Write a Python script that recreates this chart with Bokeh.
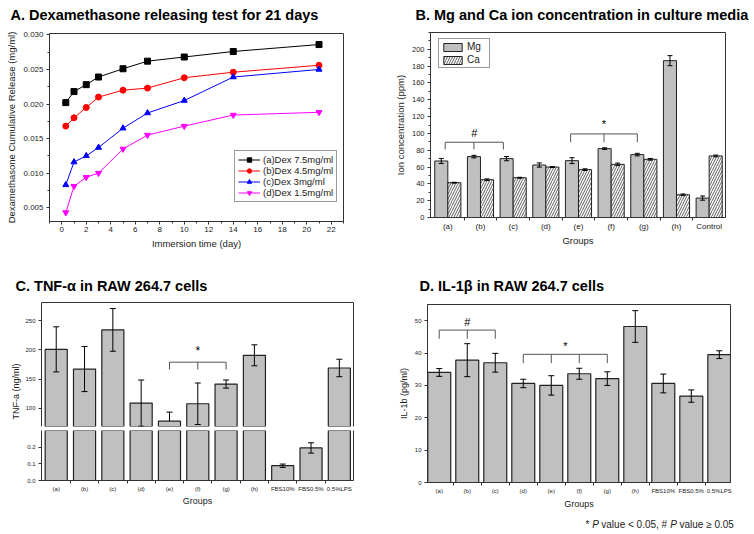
import numpy as np
from bokeh.plotting import figure
from bokeh.layouts import row, column
from bokeh.models import (Range1d, FixedTicker, NumeralTickFormatter, Legend, LegendItem,
                          LinearAxis)
from bokeh.core.properties import value
from bokeh.embed import file_html
from bokeh.resources import INLINE

FONT = "Liberation Sans"
INK = "#222222"
AXIS = "#333333"
BAR_GRAY = "#c0c0c0"

# ---------------- A. Dexamethasone release ----------------
release_days = [0.33, 1, 2, 3, 5, 7, 10, 14, 21]
release_a = [0.0202, 0.0218, 0.0228, 0.0239, 0.0251, 0.0262, 0.0268, 0.0276, 0.0286]
release_b = [0.0168, 0.0180, 0.0195, 0.0210, 0.0220, 0.0223, 0.0238, 0.0246, 0.0256]
release_c = [0.0083, 0.0116, 0.0125, 0.0137, 0.0165, 0.0187, 0.0205, 0.0239, 0.0250]
release_d = [0.0043, 0.0081, 0.0094, 0.0100, 0.0135, 0.0155, 0.0168, 0.0184, 0.0188]
release_names = ["(a)Dex 7.5mg/ml", "(b)Dex 4.5mg/ml", "(c)Dex 3mg/ml", "(d)Dex 1.5mg/ml"]
release_colors = ["#000000", "#ff0000", "#0000ff", "#ff00ff"]
release_markers = ["square", "circle", "triangle", "inverted_triangle"]

# ---------------- B. Mg / Ca ions ----------------
ion_groups = ["(a)", "(b)", "(c)", "(d)", "(e)", "(f)", "(g)", "(h)", "Control"]
mg_ppm = [67.2, 72.4, 70.0, 62.4, 67.6, 81.9, 74.8, 186.5, 23.1]
mg_err = [3.0, 1.5, 2.5, 2.5, 3.5, 1.0, 1.5, 6.0, 2.5]
ca_ppm = [41.4, 44.9, 47.3, 60.0, 56.9, 63.2, 69.2, 27.0, 73.2]
ca_err = [0.5, 1.0, 0.5, 0.5, 1.0, 1.5, 1.0, 1.0, 1.0]
# significance brackets: x of legs/ticks, bracket height, leg bottom, symbol, symbol height
ion_brackets = [([0.92, 1.8, 2.7], 89.5, 80.8, "#", 100.6),
                ([4.76, 5.78, 6.8], 99.4, 89.5, "*", 111.0)]

# ---------------- C / D. cytokines ----------------
cell_groups = ["(a)", "(b)", "(c)", "(d)", "(e)", "(f)", "(g)", "(h)",
               "FBS10%", "FBS0.5%", "0.5%LPS"]
tnf = [201.0, 167.2, 234.5, 108.6, 77.6, 107.5, 141.4, 190.8, 0.089, 0.196, 169.0]
tnf_err = [38.8, 38.8, 36.7, 39.7, 15.5, 35.7, 7.0, 18.0, 0.01, 0.031, 15.0]
tnf_brackets = [([5, 6, 7], 179.0, 166.4, "*", 199.0)]

il1b = [34.0, 37.8, 37.0, 30.6, 30.0, 33.6, 32.1, 48.2, 30.6, 26.7, 39.5]
il1b_err = [1.2, 5.1, 2.9, 1.3, 3.0, 1.7, 2.1, 4.9, 2.9, 1.9, 1.2]
il1b_brackets = [([1, 2, 3], 47.1, 44.4, "#", 49.6),
                 ([4, 5, 6, 7], 39.6, 36.9, "*", 42.3)]

titles = ["A. Dexamethasone releasing test for 21 days",
          "B. Mg and Ca ion concentration in culture media",
          "C. TNF-\u03b1 in RAW 264.7 cells",
          "D. IL-1\u03b2 in RAW 264.7 cells"]


def make_fig(w, h, xr, yr, borders, **kw):
    left, right, top, bottom = borders
    p = figure(width=w, height=h, x_range=xr, y_range=yr, output_backend="svg",
               toolbar_location=None, title=None, min_border_left=left,
               min_border_right=right, min_border_top=top, min_border_bottom=bottom, **kw)
    p.xgrid.visible = False
    p.ygrid.visible = False
    p.outline_line_color = AXIS
    p.outline_line_width = 1
    p.background_fill_color = "white"
    p.border_fill_color = "white"
    return p


def text_canvas(w, h):
    """Axis-free strip used to place free text with glyphs in pixel coordinates."""
    p = figure(width=w, height=h, x_range=Range1d(0, w), y_range=Range1d(0, h),
               output_backend="svg", toolbar_location=None, title=None,
               x_axis_location=None, y_axis_location=None, min_border=0)
    p.xgrid.visible = False
    p.ygrid.visible = False
    p.outline_line_color = None
    p.background_fill_color = "white"
    p.border_fill_color = "white"
    return p


def title_strip(text, h, x, y_from_top):
    p = text_canvas(377, h)
    p.text(x=[x], y=[h - y_from_top], text=[text], text_font=value(FONT),
           text_font_size="14.5px", text_font_style="bold", text_color="black",
           text_align="left", text_baseline="middle")
    # wrapped in its own row so its frame is not aligned with the chart below
    return row(p)


def style_axis(ax, tick_size, label_size="9.5px", tick_out=3, minor_out=2,
               standoff=3, label_standoff=3):
    ax.axis_line_color = AXIS
    ax.major_tick_line_color = AXIS
    ax.minor_tick_line_color = AXIS
    ax.major_tick_out = tick_out
    ax.major_tick_in = 0
    ax.minor_tick_out = minor_out
    ax.minor_tick_in = 0
    ax.major_label_text_font = FONT
    ax.major_label_text_font_size = tick_size
    ax.major_label_text_color = INK
    ax.major_label_standoff = standoff
    ax.axis_label_text_font = FONT
    ax.axis_label_text_font_size = label_size
    ax.axis_label_text_font_style = "normal"
    ax.axis_label_text_color = INK
    ax.axis_label_standoff = label_standoff


def frame_only_axis(p, side):
    ax = LinearAxis(ticker=FixedTicker(ticks=[], minor_ticks=[]))
    ax.axis_line_color = AXIS
    ax.major_tick_line_color = None
    ax.minor_tick_line_color = None
    p.add_layout(ax, side)
    return ax


def error_bars(p, xs, vals, errs, cap, lower=None):
    xs = np.asarray(xs, dtype=float)
    v = np.asarray(vals, dtype=float)
    e = np.asarray(errs, dtype=float)
    lower = np.ones(len(v), dtype=bool) if lower is None else np.asarray(lower, dtype=bool)
    p.segment(x0=xs, y0=v, x1=xs, y1=v + e, line_color="black", line_width=1)
    p.scatter(xs, v + e, marker="dash", size=cap, line_color="black", line_width=1)
    p.segment(x0=xs[lower], y0=v[lower], x1=xs[lower], y1=(v - e)[lower],
              line_color="black", line_width=1)
    p.scatter(xs[lower], (v - e)[lower], marker="dash", size=cap,
              line_color="black", line_width=1)


def brackets(p, spec, mark_size="11px"):
    for xs, top, leg, mark, mark_y in spec:
        p.multi_line(xs=[[xs[0], xs[0], xs[-1], xs[-1]]] + [[x, x] for x in xs[1:-1]],
                     ys=[[leg, top, top, leg]] + [[top, leg] for _ in xs[1:-1]],
                     line_color="#555555", line_width=1)
        p.text(x=[(xs[0] + xs[-1]) / 2], y=[mark_y], text=[mark],
               text_font=value(FONT), text_font_size=mark_size,
               text_align="center", text_baseline="middle", text_color="black")


def category_ticks(ax, names):
    n = len(names)
    ax.ticker = FixedTicker(ticks=list(range(1, n + 1)),
                            minor_ticks=[i + 0.5 for i in range(1, n)])
    ax.major_label_overrides = {i + 1: s for i, s in enumerate(names)}


# ======================= Panel A =======================
pa = make_fig(377, 241, Range1d(-1, 23), Range1d(0.003, 0.0302), (49, 34, 7, 46))
items = []
for ys, name, col, mk in zip([release_a, release_b, release_c, release_d],
                             release_names, release_colors, release_markers):
    ln = pa.line(release_days, ys, line_color=col, line_width=1)
    sc = pa.scatter(release_days, ys, marker=mk, size=6, fill_color=col, line_color=col)
    items.append(LegendItem(label=name, renderers=[ln, sc]))
style_axis(pa.xaxis[0], "8px", standoff=2)
style_axis(pa.yaxis[0], "8px")
pa.xaxis[0].ticker = FixedTicker(ticks=list(range(0, 23, 2)), minor_ticks=list(range(-1, 24)))
pa.yaxis[0].ticker = FixedTicker(ticks=[0.005, 0.010, 0.015, 0.020, 0.025, 0.030],
                                 minor_ticks=[0.0025 * i for i in range(1, 13)])
pa.yaxis[0].formatter = NumeralTickFormatter(format="0.000")
pa.xaxis[0].axis_label = "Immersion time (day)"
pa.yaxis[0].axis_label = "Dexamethasone Cumulative Release (mg/ml)"
leg_a = Legend(items=items, location=(185, 19), border_line_color=AXIS, border_line_width=1,
               padding=3, spacing=0, margin=0, label_standoff=3, glyph_width=22,
               glyph_height=11, label_height=11, label_text_font=FONT,
               label_text_font_size="9.5px", label_text_color=INK)
pa.add_layout(leg_a)
panel_a = column(title_strip(titles[0], 26, 10, 14), pa)

# ======================= Panel B =======================
ion_x = np.arange(1, len(ion_groups) + 1)
pb = make_fig(377, 241, Range1d(0.47, 9.5), Range1d(0, 220), (53, 29, 6, 50))
r_mg = pb.vbar(x=ion_x - 0.2, top=mg_ppm, width=0.4, fill_color=BAR_GRAY,
               line_color=INK, line_width=1)
r_ca = pb.vbar(x=ion_x + 0.2, top=ca_ppm, width=0.4, fill_color="white",
               line_color=INK, line_width=1, hatch_pattern="/", hatch_scale=5,
               hatch_weight=0.8, hatch_color="#333333")
error_bars(pb, ion_x - 0.2, mg_ppm, mg_err, cap=5)
error_bars(pb, ion_x + 0.2, ca_ppm, ca_err, cap=5)
brackets(pb, ion_brackets)
style_axis(pb.xaxis[0], "8px", tick_out=0, minor_out=3, standoff=1, label_standoff=1)
style_axis(pb.yaxis[0], "7.5px")
category_ticks(pb.xaxis[0], ion_groups)
pb.yaxis[0].ticker = FixedTicker(ticks=list(range(0, 201, 20)),
                                 minor_ticks=list(range(0, 221, 10)))
pb.xaxis[0].axis_label = "Groups"
pb.yaxis[0].axis_label = "Ion concentration (ppm)"
leg_b = Legend(items=[LegendItem(label="Mg", renderers=[r_mg]),
                      LegendItem(label="Ca", renderers=[r_ca])],
               location=(8, 149), border_line_color=AXIS, border_line_width=1,
               padding=2, spacing=2, margin=0, label_standoff=3, glyph_width=23,
               glyph_height=10, label_height=10, label_text_font=FONT,
               label_text_font_size="10px", label_text_color=INK)
pb.add_layout(leg_b)
panel_b = column(title_strip(titles[1], 26, 38, 14), pb)

# ======================= Panel C (broken y axis) =======================
cell_x = np.arange(1, len(cell_groups) + 1)
c_xrange = Range1d(0.48, 11.5)
tnf_upper = (68.4, 281.6)
tnf_lower = (0.0, 0.301)
C_LABEL_W = 22

pc_top = make_fig(377 - C_LABEL_W, 133, c_xrange, Range1d(*tnf_upper),
                  (41 - C_LABEL_W, 24, 7, 2), x_axis_location="above")
pc_bot = make_fig(377 - C_LABEL_W, 106, c_xrange, Range1d(*tnf_lower),
                  (41 - C_LABEL_W, 24, 2, 54))

top_left = pc_top.yaxis[0]
bot_left = pc_bot.yaxis[0]
top_left.ticker = FixedTicker(ticks=[100, 150, 200, 250])
bot_left.ticker = FixedTicker(ticks=[0.0, 0.1, 0.2])
bot_left.formatter = NumeralTickFormatter(format="0.0")
style_axis(top_left, "6px")
style_axis(bot_left, "6px")

# upper segment only shows bars that reach above the break
upper_idx = [i for i, v in enumerate(tnf) if v > tnf_upper[0]]
up_x = [cell_x[i] for i in upper_idx]
up_v = [tnf[i] for i in upper_idx]
up_e = [tnf_err[i] for i in upper_idx]
pc_top.vbar(x=up_x, top=up_v, width=0.78, fill_color=BAR_GRAY, line_color=INK,
            line_width=1.2)
# lower whiskers that would end inside the axis break are left out
show_low = [(v - e) >= tnf_upper[0] for v, e in zip(up_v, up_e)]
error_bars(pc_top, up_x, up_v, up_e, cap=6, lower=show_low)
brackets(pc_top, tnf_brackets, mark_size="12px")

pc_bot.vbar(x=cell_x, top=tnf, width=0.78, fill_color=BAR_GRAY, line_color=INK,
            line_width=1.2)
low_idx = [i for i, v in enumerate(tnf) if v < tnf_lower[1]]
error_bars(pc_bot, [cell_x[i] for i in low_idx], [tnf[i] for i in low_idx],
           [tnf_err[i] for i in low_idx], cap=6)

for p in (pc_top, pc_bot):
    p.outline_line_color = None
    frame_only_axis(p, "right")

pc_top.xaxis[0].ticker = FixedTicker(ticks=[], minor_ticks=[])
pc_top.xaxis[0].axis_line_color = AXIS
pc_top.xaxis[0].major_tick_line_color = None
pc_top.xaxis[0].minor_tick_line_color = None
style_axis(pc_bot.xaxis[0], "6px", label_size="9px", tick_out=0, minor_out=3,
           standoff=2, label_standoff=1)
category_ticks(pc_bot.xaxis[0], cell_groups)
pc_bot.xaxis[0].axis_label = "Groups"

# shared y-axis title spanning both segments
pc_lab = text_canvas(C_LABEL_W, 239)
pc_lab.text(x=[15], y=[239 - 96], text=["TNF-a (ng/ml)"], angle=np.pi / 2,
            text_font=value(FONT), text_font_size="9px", text_color=INK,
            text_align="center", text_baseline="middle")
panel_c = column(title_strip(titles[2], 28, 15, 18),
                 row(pc_lab, column(pc_top, pc_bot)))

# ======================= Panel D =======================
pd_ = make_fig(377, 217, Range1d(0.58, 11.4), Range1d(0, 55), (50, 24, 9, 30))
pd_.vbar(x=cell_x, top=il1b, width=0.82, fill_color=BAR_GRAY, line_color=INK,
         line_width=1.2)
error_bars(pd_, cell_x, il1b, il1b_err, cap=6)
brackets(pd_, il1b_brackets)
style_axis(pd_.xaxis[0], "6px", label_size="9px", tick_out=0, minor_out=3,
           standoff=2, label_standoff=2)
style_axis(pd_.yaxis[0], "6px", label_size="9px")
category_ticks(pd_.xaxis[0], cell_groups)
pd_.yaxis[0].ticker = FixedTicker(ticks=list(range(0, 51, 10)))
pd_.xaxis[0].axis_label = "Groups"
pd_.yaxis[0].axis_label = "IL-1b (pg/ml)"

# footnote, with italic P
note = text_canvas(377, 22)
note_parts = [("*", "normal", 208.0), ("P", "italic", 214.7),
              ("value < 0.05, #", "normal", 223.8), ("P", "italic", 292.8),
              ("value \u2265 0.05", "normal", 302.0)]
for txt, style, nx in note_parts:
    note.text(x=[nx], y=[10], text=[txt], text_font=value(FONT), text_font_size="10px",
              text_font_style=style, text_baseline="middle", text_align="left",
              text_color=INK)
panel_d = column(title_strip(titles[3], 28, 42, 18), pd_, row(note))

layout = column(row(panel_a, panel_b), row(panel_c, panel_d))
open("out.html", "w").write(file_html(layout, INLINE))
